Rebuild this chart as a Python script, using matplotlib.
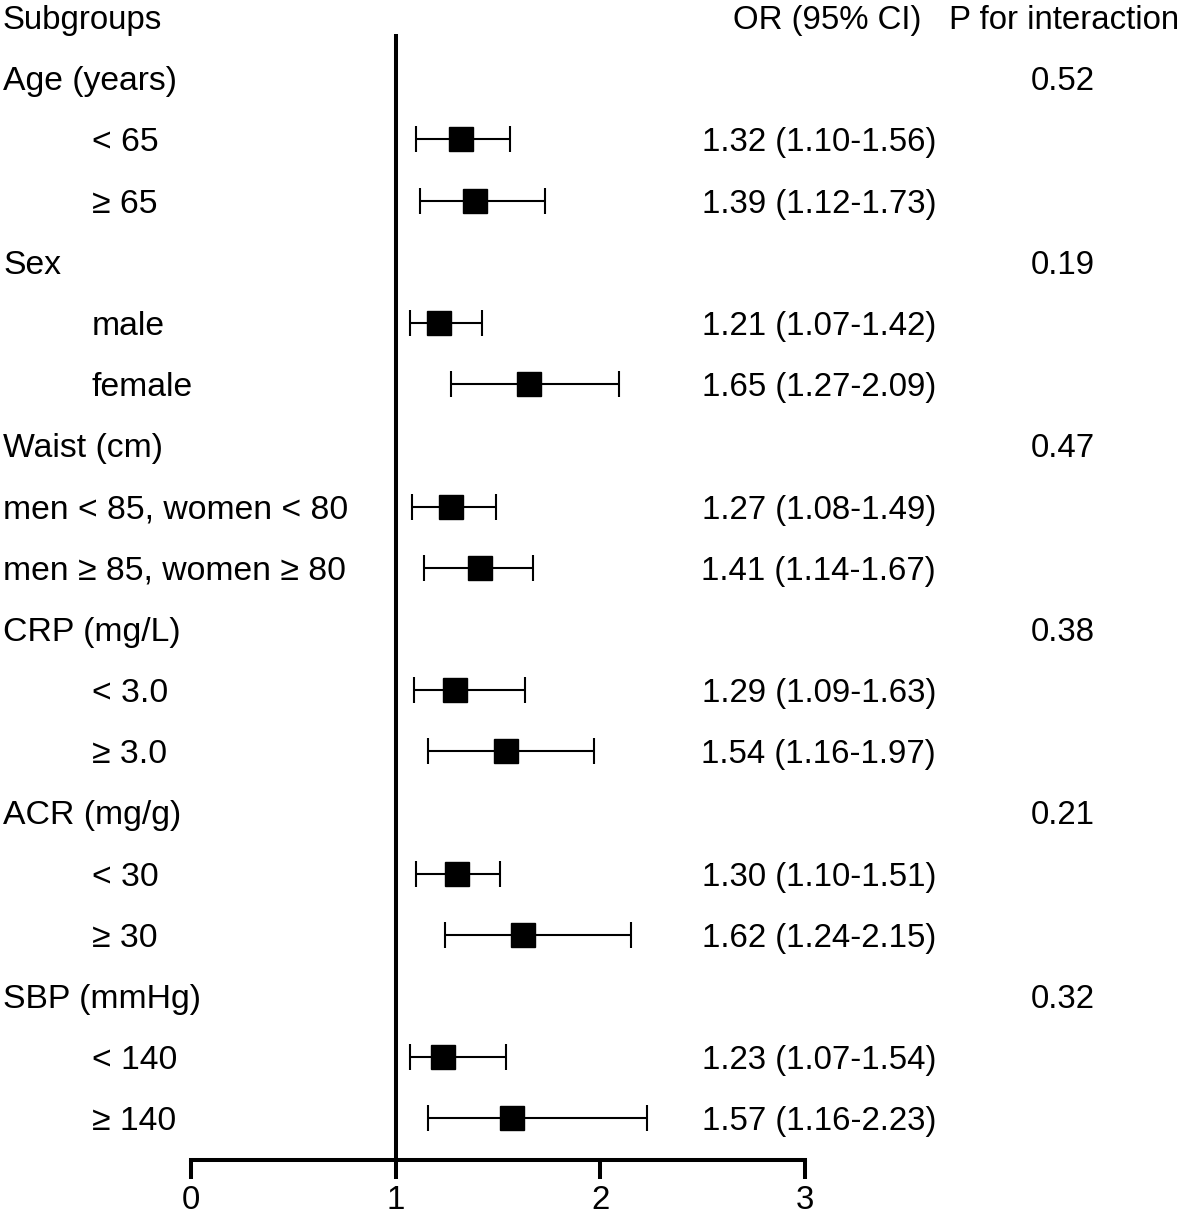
import numpy as np
import matplotlib.pyplot as plt
import matplotlib.transforms as mtransforms

plt.rcParams['font.family'] = ['Liberation Sans', 'DejaVu Sans']

# dados do forest plot
labels = ['Age (years)', '< 65', '\u2265 65',
          'Sex', 'male', 'female',
          'Waist (cm)', 'men < 85, women < 80', 'men \u2265 85, women \u2265 80',
          'CRP (mg/L)', '< 3.0', '\u2265 3.0',
          'ACR (mg/g)', '< 30', '\u2265 30',
          'SBP (mmHg)', '< 140', '\u2265 140']
recuo = [0, 1, 1, 0, 1, 1, 0, 0, 0, 0, 1, 1, 0, 1, 1, 0, 1, 1]
odds = [np.nan, 1.32, 1.39, np.nan, 1.21, 1.65, np.nan, 1.27, 1.41,
        np.nan, 1.29, 1.54, np.nan, 1.30, 1.62, np.nan, 1.23, 1.57]
ci_low = [np.nan, 1.10, 1.12, np.nan, 1.07, 1.27, np.nan, 1.08, 1.14,
          np.nan, 1.09, 1.16, np.nan, 1.10, 1.24, np.nan, 1.07, 1.16]
ci_high = [np.nan, 1.56, 1.73, np.nan, 1.42, 2.09, np.nan, 1.49, 1.67,
           np.nan, 1.63, 1.97, np.nan, 1.51, 2.15, np.nan, 1.54, 2.23]
p_inter = ['0.52', '', '', '0.19', '', '', '0.47', '', '',
           '0.38', '', '', '0.21', '', '', '0.32', '', '']

W, H = 1181, 1215
fig = plt.figure(figsize=(W / 100, H / 100), dpi=100)

# eixo: x=0 em 191px, x=3 em 805px; linhas a cada 61.2px
y_top, y_bot = 0.278, 18.68
ax = fig.add_axes([191 / W, 1 - 1160 / H, (805 - 191) / W, (1160 - 34) / H])
ax.set_xlim(0, 3)
ax.set_ylim(y_bot, y_top)

linhas = np.arange(1, len(labels) + 1)
odds = np.array(odds)
ci_low = np.array(ci_low)
ci_high = np.array(ci_high)
ok = ~np.isnan(odds)

ax.errorbar(odds[ok], linhas[ok],
            xerr=[odds[ok] - ci_low[ok], ci_high[ok] - odds[ok]],
            fmt='s', color='black', ms=17, elinewidth=1.5,
            capsize=9.5, capthick=1.5)
ax.axvline(1, color='black', lw=2.9)

for s in ['top', 'right', 'left']:
    ax.spines[s].set_visible(False)
ax.spines['bottom'].set_linewidth(2.9)
ax.set_yticks([])
ax.set_xticks([0, 1, 2, 3])
fs = 23.8
ax.tick_params(axis='x', length=14, width=2.9, labelsize=fs, pad=4)

# textos
trans = mtransforms.blended_transform_factory(fig.transFigure, ax.transData)
ax.text(3 / W, 0, 'Subgroups', transform=trans, fontsize=fs,
        ha='left', va='center_baseline')
ax.text(921 / W, 0, 'OR (95% CI)', transform=trans, fontsize=fs,
        ha='right', va='center_baseline')
ax.text(1179 / W, 0, 'P for interaction', transform=trans, fontsize=fs,
        ha='right', va='center_baseline')

for i, lab in enumerate(labels):
    y = linhas[i]
    x0 = 92 / W if recuo[i] else 3 / W
    ax.text(x0, y, lab, transform=trans, fontsize=24.3,
            ha='left', va='center_baseline')
    if ok[i]:
        txt = '{:.2f} ({:.2f}-{:.2f})'.format(odds[i], ci_low[i], ci_high[i])
        ax.text(936 / W, y, txt, transform=trans, fontsize=fs,
                ha='right', va='center_baseline')
    if p_inter[i]:
        ax.text(1095 / W, y, p_inter[i], transform=trans, fontsize=fs,
                ha='right', va='center_baseline')

fig.savefig('out.png', dpi=100)
